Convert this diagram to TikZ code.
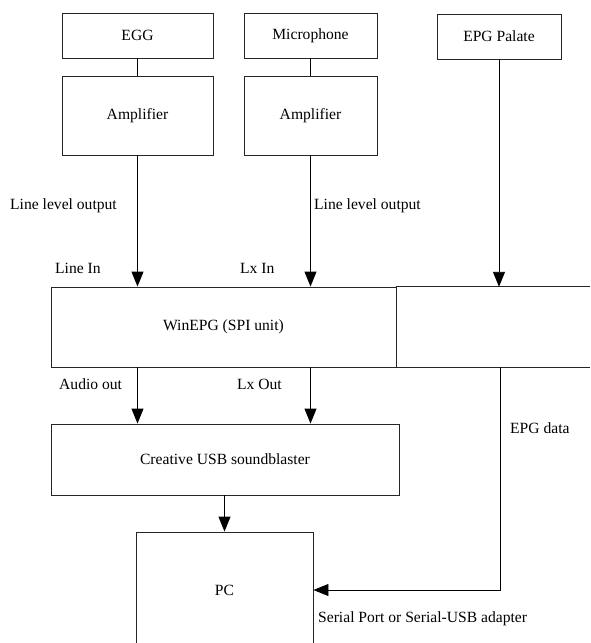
\documentclass[tikz,border=0pt]{standalone}
\usepackage{fontspec}
\setmainfont{Liberation Serif}
\usetikzlibrary{arrows.meta}
\begin{document}
\begin{tikzpicture}[x=1pt,y=-1pt,
  every node/.style={font=\fontsize{15.6}{18}\selectfont},
  box/.style={draw=black!85,line width=0.9pt,inner sep=0pt,rectangle},
  lbl/.style={anchor=base west,inner sep=0pt},
  conn/.style={line width=0.9pt,draw=black},
  arr/.style={conn,-{Triangle[length=15pt,width=12pt]}}]
\useasboundingbox (0,0) rectangle (590,643);
% boxes
\node[box,minimum width=151pt,minimum height=45pt] (egg) at (137.5,35.5) {EGG};
\node[box,minimum width=151pt,minimum height=79pt] (amp1) at (137.5,115.5) {Amplifier};
\node[box,minimum width=133pt,minimum height=45pt] (mic) at (310.5,35.5) {Microphone};
\node[box,minimum width=133pt,minimum height=79pt] (amp2) at (310.5,115.5) {Amplifier};
\node[box,minimum width=124pt,minimum height=45pt] (epg) at (499,36.5) {EPG Palate};
\node[box,minimum width=345pt,minimum height=80pt] (win) at (223.5,327) {WinEPG (SPI unit)};
\node[inner sep=0pt,minimum width=194pt,minimum height=80pt] (spr) at (493,327) {};
\draw[conn,draw=black!85] (spr.north west) -- (spr.north east);
\draw[conn,draw=black!85] (spr.south west) -- (spr.south east);
\node[box,minimum width=348pt,minimum height=71pt] (cre) at (225,459.5) {Creative USB soundblaster};
\node[box,minimum width=177pt,minimum height=116pt] (pc) at (224.5,590) {PC};
\coordinate (corner) at (500,590);
% connectors
\draw[conn] (egg.south) -- (amp1.north);
\draw[conn] (mic.south) -- (amp2.north);
\draw[arr] (amp1.south) -- (amp1.south |- win.north);
\draw[arr] (amp2.south) -- (amp2.south |- win.north);
\draw[arr] (epg.south) -- (epg.south |- spr.north);
\draw[arr] (amp1.south |- win.south) -- (amp1.south |- cre.north);
\draw[arr] (amp2.south |- win.south) -- (amp2.south |- cre.north);
\draw[arr] (cre.south -| pc.north) -- (pc.north);
\draw[arr] (corner |- spr.south) -- (corner) -- (pc.east);
% labels
\node[lbl] (l1) at (10,209) {Line level output};
\node[lbl] (l2) at (314,209) {Line level output};
\node[lbl] (l3) at (55,273) {Line In};
\node[lbl] (l4) at (240,273) {Lx In};
\node[lbl] (l5) at (59,389) {Audio out};
\node[lbl] (l6) at (237,389) {Lx Out};
\node[lbl] (l7) at (510,433) {EPG data};
\node[lbl] (l8) at (318,622) {Serial Port or Serial-USB adapter};
\end{tikzpicture}
\end{document}
